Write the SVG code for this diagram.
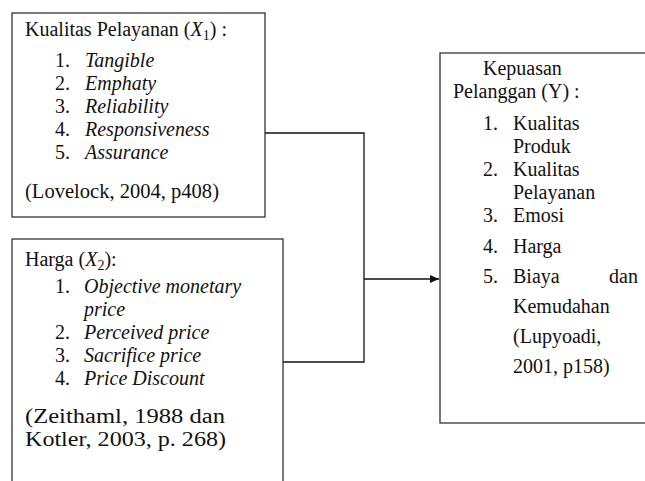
<svg xmlns="http://www.w3.org/2000/svg" width="645" height="481" viewBox="0 0 645 481">
<style>
.box{fill:#fff;stroke:#333;stroke-width:1.3}
.t text{fill:#111}
.i{font-style:italic}
.sub{font-size:14px}
.conn{fill:none;stroke:#111;stroke-width:1.3}
</style>
<defs>
<marker id="ah" markerWidth="10" markerHeight="8" refX="9" refY="4" orient="auto" markerUnits="userSpaceOnUse"><path d="M0,0 L9,4 L0,8 Z" fill="#111"/></marker>
</defs>
<rect width="645" height="481" fill="#fff"/>
<g id="connectors">
<polyline class="conn" points="265,133 364,133 364,362 283,362"/>
<line class="conn" x1="364" y1="279" x2="439" y2="279" marker-end="url(#ah)"/>
</g>
<g id="kualitas-pelayanan" class="t" font-family="'Liberation Serif', 'Times New Roman', Times, serif" font-size="20">
<rect class="box" x="12" y="13" width="253" height="204"/>
<text x="25" y="36">Kualitas Pelayanan (<tspan class="i">X</tspan><tspan class="sub" dy="4">1</tspan><tspan dy="-4">) :</tspan></text>
<text x="55" y="67">1.</text><text class="i" x="85" y="67">Tangible</text>
<text x="55" y="90">2.</text><text class="i" x="85" y="90">Emphaty</text>
<text x="55" y="113">3.</text><text class="i" x="85" y="113">Reliability</text>
<text x="55" y="136">4.</text><text class="i" x="85" y="136">Responsiveness</text>
<text x="55" y="159">5.</text><text class="i" x="85" y="159">Assurance</text>
<text x="25" y="198" textLength="194" lengthAdjust="spacingAndGlyphs">(Lovelock, 2004, p408)</text>
</g>
<g id="harga" class="t" font-family="'Liberation Serif', 'Times New Roman', Times, serif" font-size="20">
<rect class="box" x="12" y="239" width="271" height="260"/>
<text x="25" y="266">Harga (<tspan class="i">X</tspan><tspan class="sub" dy="4">2</tspan><tspan dy="-4">):</tspan></text>
<text x="55" y="293">1.</text><text class="i" x="84" y="293">Objective monetary</text>
<text class="i" x="84" y="316">price</text>
<text x="55" y="339">2.</text><text class="i" x="84" y="339">Perceived price</text>
<text x="55" y="362">3.</text><text class="i" x="84" y="362">Sacrifice price</text>
<text x="55" y="385">4.</text><text class="i" x="84" y="385">Price Discount</text>
<text x="25" y="423" textLength="200" lengthAdjust="spacingAndGlyphs">(Zeithaml, 1988 dan</text>
<text x="25" y="446" textLength="201" lengthAdjust="spacingAndGlyphs">Kotler, 2003, p. 268)</text>
</g>
<g id="kepuasan-pelanggan" class="t" font-family="'Liberation Serif', 'Times New Roman', Times, serif" font-size="20">
<rect class="box" x="440" y="53" width="220" height="370"/>
<text x="483" y="75">Kepuasan</text>
<text x="453" y="97.5">Pelanggan (Y) :</text>
<text x="483" y="130">1.</text><text x="513" y="130">Kualitas</text>
<text x="513" y="152.5">Produk</text>
<text x="483" y="175.5">2.</text><text x="513" y="175.5">Kualitas</text>
<text x="513" y="198.5">Pelayanan</text>
<text x="483" y="222">3.</text><text x="513" y="222">Emosi</text>
<text x="483" y="253">4.</text><text x="513" y="253">Harga</text>
<text x="483" y="283">5.</text><text x="513" y="283">Biaya</text><text x="609" y="283">dan</text>
<text x="513" y="313">Kemudahan</text>
<text x="513" y="343">(Lupyoadi,</text>
<text x="513" y="373">2001, p158)</text>
</g>
</svg>
